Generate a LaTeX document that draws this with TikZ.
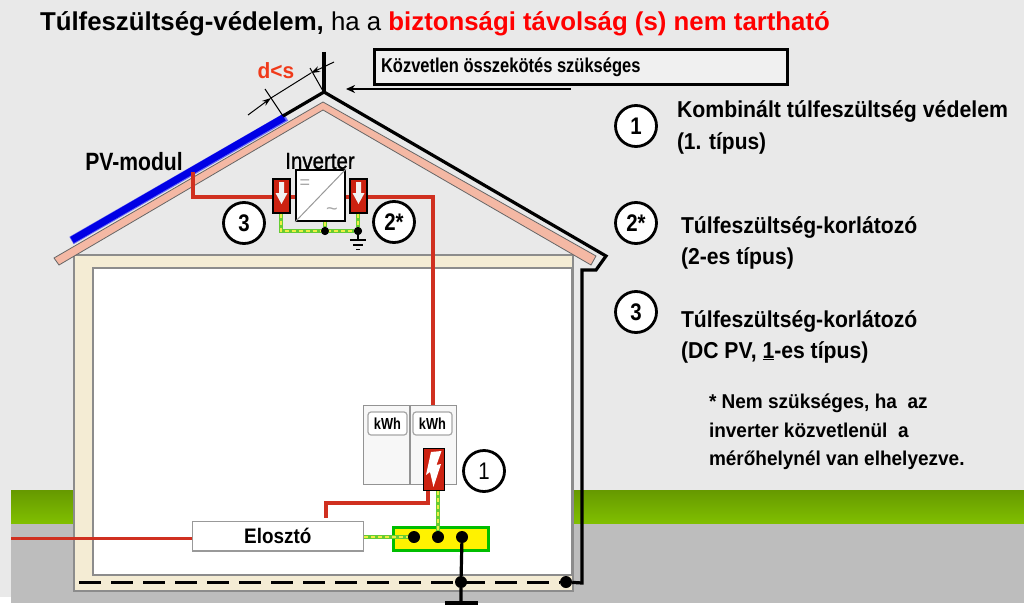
\documentclass[tikz,border=0pt]{standalone}
\usepackage{fontspec}
\setmainfont{Liberation Sans}
\newfontfamily\semib[FakeBold=1.2]{Liberation Sans}
\usetikzlibrary{arrows.meta,calc}
\definecolor{bgc}{HTML}{E9E9E9}
\definecolor{groundc}{HTML}{BDBDBD}
\definecolor{grassa}{HTML}{669900}
\definecolor{grassb}{HTML}{80BF00}
\definecolor{creamc}{HTML}{F4ECD4}
\definecolor{wallc}{HTML}{8C8C8C}
\definecolor{roofc}{HTML}{F4B8A4}
\definecolor{wirered}{HTML}{D03020}
\definecolor{spdred}{HTML}{CC2211}
\definecolor{pegreen}{HTML}{66CC33}
\definecolor{peyellow}{HTML}{EEEE44}
\definecolor{dsred}{HTML}{F03A1A}
\newcommand{\cond}[2]{\scalebox{#1}[1]{#2}}
\tikzset{
  x=1pt,y=-1pt,
  lbl/.style={inner sep=0pt,outer sep=0pt,anchor=base west,text=black},
  ctr/.style={inner sep=0pt,outer sep=0pt,anchor=center,text=black},
  num/.style={circle,draw=black,line width=2.8pt,fill=white,minimum size=41pt,inner sep=0pt,font=\fontsize{24}{26}\selectfont\bfseries},
  redw/.style={draw=wirered,line width=3.6pt},
  spdbox/.style={draw=black,line width=1.2pt,fill=spdred,inner sep=0pt,minimum width=17pt,minimum height=34pt},
  blk/.style={draw=black,line width=3.2pt},
  dot/.style={circle,fill=black,inner sep=0pt,minimum size=#1},
  pew/.style={draw=pegreen,line width=3.2pt},
  pey/.style={draw=peyellow,line width=1.2pt,dash pattern=on 4pt off 3pt},
  kwh/.style={draw=gray!70,line width=1.2pt,rounded corners=3pt,fill=white,inner sep=0pt,minimum width=39pt,minimum height=23pt,font=\fontsize{16}{18}\selectfont\bfseries},
}
\begin{document}
\begin{tikzpicture}
\useasboundingbox (0,0) rectangle (1024,610);
\fill[white] (0,0) rectangle (1024,610);
\fill[bgc] (0,0) rectangle (1024,597);
% ground
\fill[groundc] (11,523) rectangle (1024,603);
\shade[top color=grassa,bottom color=grassb] (11,490) rectangle (1024,523);
% house
\draw[draw=wallc,line width=1.2pt,fill=creamc] (74,255) rectangle (573,591);
\draw[draw=wallc,line width=1.4pt,fill=white] (93,268) rectangle (572,575);
\draw[draw=wallc,line width=1.4pt] (572.5,268) -- (572.5,591);
% roof
\draw[draw=gray!80!black,line width=0.8pt,fill=roofc] (54,258) -- (323,102) -- (596,256) -- (591,265) -- (323,110) -- (59,265) -- cycle;
% PV module
\draw[line width=8.5pt,draw=blue!55!bgc] (71.5,240.5) -- (286,117);
\draw[line width=7pt,draw=blue!90!black] (72,240) -- (284,117.5);
% lightning conductor
\coordinate (apex) at (324,92);
\coordinate (pvend) at (283,116);
\draw[blk,line join=miter] (pvend) -- (apex);
\draw[blk] (324,52) -- (apex);
\coordinate (eaveA) at (606,256);
\coordinate (eaveB) at (596,270);
\coordinate (eaveC) at (582,270);
\coordinate (gbond) at (582,583);
\node[dot=12pt] (gdot) at (566,582) {};
\draw[blk,line join=miter] (apex) -- (eaveA) -- (eaveB) -- (eaveC) -- (gbond) -- (gdot);
% dimension
\coordinate (e1a) at (265,89); \coordinate (e1b) at (283,116);
\coordinate (e2a) at (310,68); \coordinate (e2b) at (323,91);
\coordinate (d1) at (248,115); \coordinate (d2) at (334,62);
\coordinate (d1t) at (271,98); \coordinate (d2t) at (311,73);
\draw[black,line width=1pt] (e1a) -- (e1b) (e2a) -- (e2b) (d1t) -- (d2t);
\draw[black,line width=1pt,-{Stealth[length=9pt,width=6pt]}] (d1) -- (d1t);
\draw[black,line width=1pt,-{Stealth[length=9pt,width=6pt]}] (d2) -- (d2t);
\node[ctr,text=dsred,font=\fontsize{22}{24}\selectfont\bfseries] (ds) at (276,71) {\cond{0.95}{d<s}};
% title
\node[lbl] (title) at (40,31) {\fontsize{25.8}{28}\selectfont\textbf{Túlfeszültség-védelem,} ha a \textcolor{red}{\textbf{biztonsági távolság (s) nem tartható}}};
% note box
\node[draw=black,line width=3pt,fill=bgc!70!white,minimum width=413pt,minimum height=35pt,inner sep=0pt,anchor=north west] (boxk) at (373,48) {};
\node[lbl,font=\fontsize{20}{22}\selectfont\bfseries] (boxt) at (381,72) {\cond{0.825}{Közvetlen összekötés szükséges}};
\coordinate (arrs) at (571,89);
\coordinate (arre) at (346,89);
\draw[black,line width=2.6pt,-{Stealth[length=9pt,width=8pt]}] (arrs) -- (arre);
% labels
\node[ctr,font=\fontsize{25}{28}\selectfont\bfseries] (pvl) at (134,162) {\cond{0.845}{PV-modul}};
\node[ctr,font=\fontsize{23}{26}\semib\selectfont] (invl) at (320,161) {\cond{0.89}{Inverter}};
% inverter wires
\node[draw=black,line width=1.8pt,fill=white,minimum width=49pt,minimum height=51pt,inner sep=0pt] (inv) at (320.5,195.5) {};
\draw[gray!80,line width=1pt] (inv.south west) -- (inv.north east);
\node[ctr,text=gray!70,font=\fontsize{18}{18}\selectfont] (eqs) at (305,184) {=};
\node[ctr,text=gray!70,font=\fontsize{20}{20}\selectfont] (til) at (332,212) {\textasciitilde};
\node[spdbox] (spdl) at (281.5,196) {};
\node[spdbox] (spdr) at (358.5,196) {};
\foreach \s in {spdl,spdr}{
  \fill[white!90!gray] ($(\s)+(-2.5,-14)$) -- ($(\s)+(2.5,-14)$) -- ($(\s)+(2.5,-3)$) -- ($(\s)+(6,-3)$) -- ($(\s)+(0,8)$) -- ($(\s)+(-6,-3)$) -- ($(\s)+(-2.5,-3)$) -- cycle;
}
\coordinate (pvtap) at (193,172);
\coordinate (w1) at (193,197);
\coordinate (w2) at (433,197);
\draw[redw,line join=miter] (pvtap) -- (w1) -- (spdl.west |- w1);
\draw[redw] (spdl.east |- w1) -- (inv.west |- w1);
\draw[redw] (inv.east |- w1) -- (spdr.west |- w1);
% meter
\node[draw=gray!85,line width=1.4pt,fill=gray!6,minimum width=93pt,minimum height=79pt,inner sep=0pt,anchor=north west] (meter) at (363,405) {};
\draw[gray!85,line width=1.2pt] (410,405) -- (410,484);
\draw[redw,line join=miter] (spdr.east |- w2) -- (w2) -- (w2 |- meter.north);
\node[kwh] (kw1) at (387.5,423.5) {\cond{0.8}{kWh}};
\node[kwh] (kw2) at (432.5,423.5) {\cond{0.8}{kWh}};
% PE inverter
\coordinate (pel) at (281,231);
\node[dot=8pt] (dotc) at (325,231) {};
\node[dot=8pt] (dotr) at (358,231) {};
\foreach \sty in {pew,pey}{
  \draw[\sty,line join=miter] (spdl.south -| pel) -- (pel) -- (dotr);
  \draw[\sty] (spdr.south -| dotr) -- (dotr);
  \draw[\sty] (inv.south -| dotc) -- (dotc);
}
\node[dot=8pt] at (dotc) {};
\node[dot=8pt] at (dotr) {};
\coordinate (ga) at (358,240);
\draw[black,line width=1.2pt] (dotr) -- (ga);
\draw[black,line width=1.8pt] (350,240) -- (366,240) (353,245) -- (363,245) (356,249.5) -- (360,249.5);
% distribution
\node[draw=gray!80,line width=1.6pt,fill=white,minimum width=171pt,minimum height=29.5pt,inner sep=0pt,anchor=north west,font=\fontsize{21}{24}\selectfont\bfseries] (dist) at (191.5,520.5) {\cond{0.9}{Elosztó}};
\coordinate (feed) at (11,538);
\draw[draw=wirered,line width=3pt] (feed) -- (feed -| dist.west);
% SPD 1
\node[draw=black,line width=1.2pt,fill=spdred,minimum width=21pt,minimum height=42pt,inner sep=0pt,anchor=north west] (spdm) at (423,448) {};
\fill[white] (431,452) -- (441.5,451) -- (436.5,465) -- (441,464) -- (433.5,487) -- (430,472) -- (426,475) -- cycle;
\coordinate (rb) at (428,503);
\coordinate (rc) at (326,503);
\coordinate (rd) at (326,518);
\draw[redw,line join=miter] (spdm.south -| rb) -- (rb) -- (rc) -- (rd);
% PE bar
\node[draw={rgb,255:red,0;green,190;blue,0},line width=3pt,fill=yellow,minimum width=95pt,minimum height=23pt,inner sep=0pt,anchor=north west] (bar) at (392,525.5) {};
\coordinate (pb1) at (414,537); \coordinate (pb2) at (438,537); \coordinate (pb3) at (462,537);
\foreach \sty in {pew,pey}{
  \draw[\sty] (dist.east |- pb1) -- (pb1);
  \draw[\sty] (pb2 |- spdm.south) -- (pb2);
}
\node[dot=12pt] (bd1) at (pb1) {};
\node[dot=12pt] (bd2) at (pb2) {};
\node[dot=12pt] (bd3) at (pb3) {};
% earth
\draw[black,line width=3pt,dash pattern=on 22pt off 10pt] (79,582) -- (gdot);
\node[dot=12pt] (edot) at (461,582) {};
\coordinate (eb) at (461,603);
\draw[blk] (bd3) -- (edot) -- (eb);
\draw[blk] (445,603) -- (478,603);
% circles
\node[num] (c3) at (244,223) {\cond{0.85}{3}};
\node[num] (c2) at (394,222) {\cond{0.85}{2*}};
\node[num,font=\fontsize{24}{26}\selectfont] (c1m) at (484,471) {\cond{0.85}{1}};
\node[num] (n1) at (636,126) {\cond{0.85}{1}};
\node[num] (n2) at (636,223) {\cond{0.85}{2*}};
\node[num] (n3) at (636,312) {\cond{0.85}{3}};
% legend
\tikzset{leg/.style={lbl,font=\fontsize{23}{26}\selectfont\bfseries}}
\node[leg] (l1a) at (677,117) {\cond{0.925}{Kombinált túlfeszültség védelem}};
\node[leg] (l1b) at (677,149) {\cond{0.91}{(1. típus)}};
\node[leg] (l2a) at (681,233) {\cond{0.92}{Túlfeszültség-korlátozó}};
\node[leg] (l2b) at (681,264) {\cond{0.92}{(2-es típus)}};
\node[leg] (l3a) at (681,327) {\cond{0.92}{Túlfeszültség-korlátozó}};
\node[leg] (l3b) at (681,358) {\cond{0.92}{(DC PV, \underline{1}-es típus)}};
\tikzset{nt/.style={lbl,font=\fontsize{20}{22}\selectfont\bfseries}}
\node[nt] (nta) at (709,408) {\cond{0.95}{* Nem szükséges, ha\ \ az}};
\node[nt] (ntb) at (709,437) {\cond{0.95}{inverter közvetlenül\ \ a}};
\node[nt] (ntc) at (709,465) {\cond{0.95}{mérőhelynél van elhelyezve.}};
\end{tikzpicture}
\end{document}
